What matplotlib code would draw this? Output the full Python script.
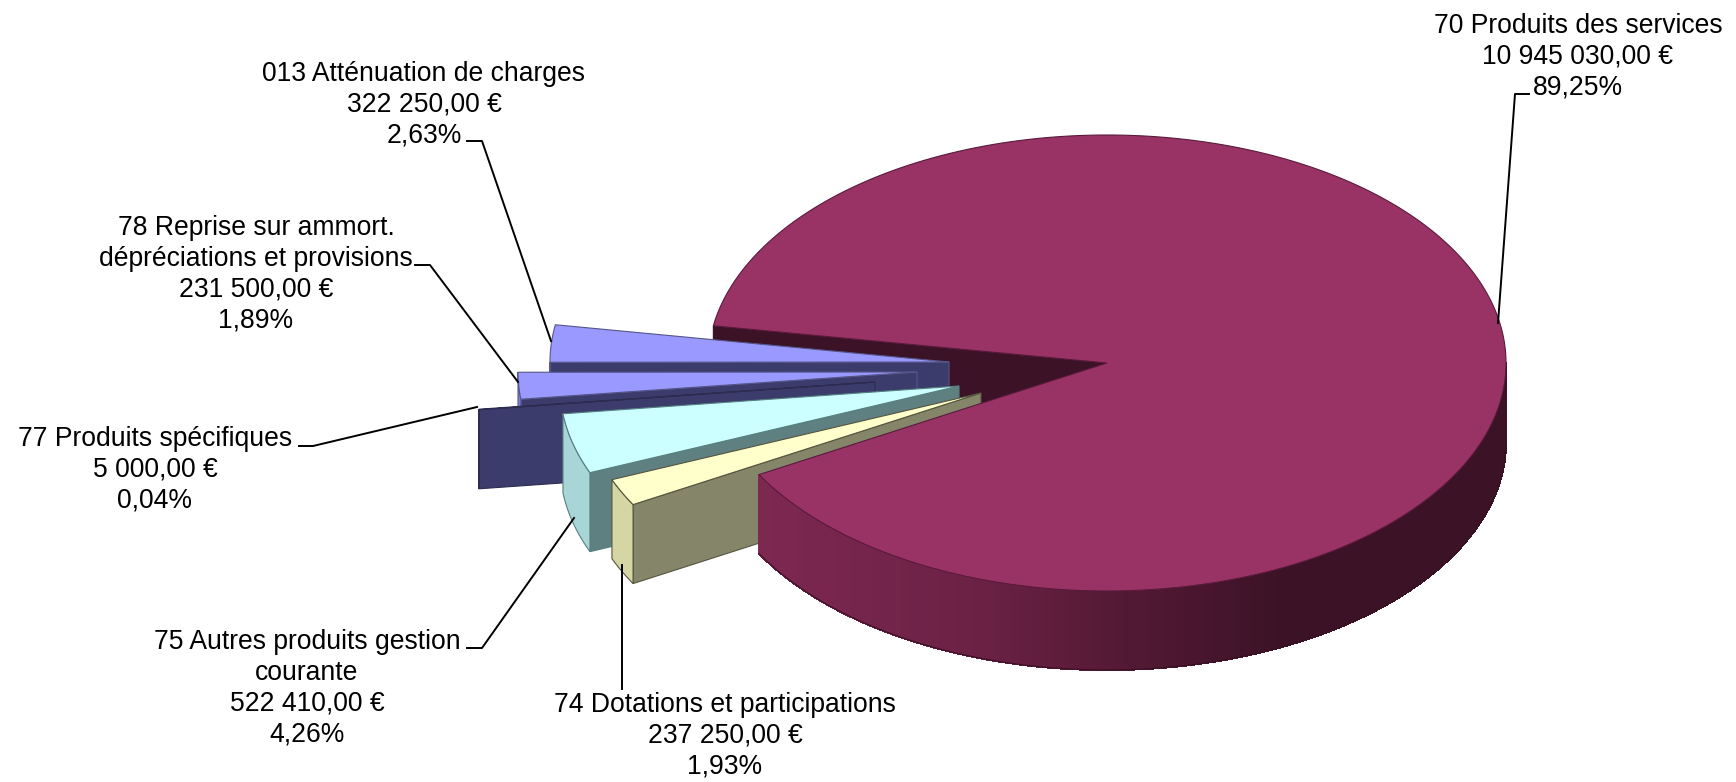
import numpy as np
import matplotlib
matplotlib.use("Agg")
import matplotlib.pyplot as plt
from matplotlib.colors import to_rgb
from matplotlib.patches import Polygon

plt.rcParams["font.family"] = ["Liberation Sans", "DejaVu Sans"]

# data, in the order the slices follow each other counter-clockwise
names = ["013 Atténuation de charges",
         "78 Reprise sur ammort.\ndépréciations et provisions",
         "77 Produits spécifiques",
         "75 Autres produits gestion\ncourante",
         "74 Dotations et participations",
         "70 Produits des services"]
amounts = [322250.00, 231500.00, 5000.00, 522410.00, 237250.00, 10945030.00]
amount_labels = ["322 250,00 €", "231 500,00 €", "5 000,00 €",
                 "522 410,00 €", "237 250,00 €", "10 945 030,00 €"]
percent_labels = ["2,63%", "1,89%", "0,04%", "4,26%", "1,93%", "89,25%"]

# pie geometry, in pixels of the figure
cx, cy = 1107, 363
rx, ry = 399, 228
depth = 79
start_angle = 170.6
offsets = [(-158, -1), (-190, 9), (-232, 19), (-148, 23), (-126, 30), (0, 0)]

top_colors = ["#9999ff", "#9999ff", "#3c3c6c", "#ccffff", "#ffffcc", "#993366"]
wall_colors = ["#3c3c6c", "#3c3c6c", "#3c3c6c", "#5f8080", "#85856a", "#3b1226"]
rim_colors = ["#8080d8", "#8080d8", "#3c3c6c", "#a8d6d6", "#d6d6a4", "#993366"]
edge_colors = ["#55558a", "#55558a", "#2c2c50", "#55807f", "#55553f", "#5a1a3c"]

# label centre x, first line y, leader line points
label_x = [424, 256, 155, 307, 725, 1578]
label_y = [61, 215, 426, 629, 692, 13]
leaders = [[(467, 141), (482, 141), (551, 341)],
           [(415, 265), (430, 265), (518, 382)],
           [(299, 446), (313, 446), (477, 407)],
           [(467, 648), (482, 648), (574, 518)],
           [(622, 689), (622, 565)],
           [(1529, 94), (1515, 94), (1498, 323)]]


def ellipse_point(angle, ox=0, oy=0, drop=0):
    t = np.radians(angle)
    return cx + ox + rx * np.cos(t), cy + oy - ry * np.sin(t) + drop


def arc(a1, a2, ox=0, oy=0, drop=0):
    angles = np.linspace(a1, a2, max(int(abs(a2 - a1)) * 2, 2) + 1)
    return [ellipse_point(a, ox, oy, drop) for a in angles]


def main_side_color(x):
    frac = (x - cx) / rx
    stops = [-0.88, -0.3, 0.0, 0.45, 1.0]
    cols = np.array([to_rgb(c) for c in
                     ["#7e2852", "#6a2144", "#561a36", "#3b1226", "#3b1226"]])
    return [np.interp(frac, stops, cols[:, i]) for i in range(3)]


def add_poly(ax, pts, face, edge=None, lw=0.8, smooth=True):
    ax.add_patch(Polygon(pts, closed=True, facecolor=face,
                         edgecolor=edge if edge is not None else face,
                         linewidth=lw, antialiased=smooth))


fig = plt.figure(figsize=(17.36, 7.82), dpi=100)
ax = fig.add_axes([0, 0, 1, 1])
ax.set_xlim(0, 1736)
ax.set_ylim(782, 0)
ax.axis("off")

spans = 360 * np.array(amounts) / sum(amounts)
ends = start_angle + np.cumsum(spans)
starts = ends - spans

# the cut face of the big slice sits behind everything else
p = ellipse_point(start_angle)
add_poly(ax, [(cx, cy), p, (p[0], p[1] + depth), (cx, cy + depth)], wall_colors[5])

for i in range(5):
    ox, oy = offsets[i]
    a1, a2 = starts[i], ends[i]
    apex = (cx + ox, cy + oy)
    q = ellipse_point(a2, ox, oy)
    add_poly(ax, [apex, q, (q[0], q[1] + depth), (apex[0], apex[1] + depth)],
             wall_colors[i], edge_colors[i])
    if a2 > 180:
        a0 = max(a1, 180)
        add_poly(ax, arc(a0, a2, ox, oy) + arc(a2, a0, ox, oy, depth),
                 rim_colors[i], edge_colors[i])
    add_poly(ax, [apex] + arc(a1, a2, ox, oy), top_colors[i], edge_colors[i])

# big slice: shaded rim in narrow strips, then the top
a = starts[5]
rim_end = 360
steps = np.arange(a, rim_end, 1.0)
for s in steps:
    e = min(s + 1.0, rim_end)
    pts = arc(s, e) + arc(e, s, drop=depth)
    add_poly(ax, pts, main_side_color(ellipse_point((s + e) / 2)[0]), lw=0.8, smooth=False)
ax.plot(*zip(*arc(a, rim_end, drop=depth)), color="#3a1024", lw=0.8)
add_poly(ax, [(cx, cy)] + arc(starts[5], ends[5]), top_colors[5], edge_colors[5])

for i in range(6):
    ax.text(label_x[i], label_y[i],
            names[i] + "\n" + amount_labels[i] + "\n" + percent_labels[i],
            ha="center", va="top", fontsize=19.1, linespacing=1.24, color="black")
    ax.plot(*zip(*leaders[i]), color="black", lw=1.4)

fig.savefig("out.png", dpi=100)
